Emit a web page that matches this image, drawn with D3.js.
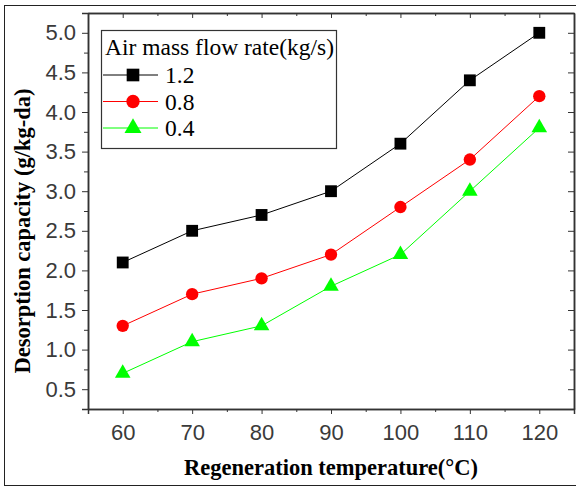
<!DOCTYPE html>
<html>
<head>
<meta charset="utf-8">
<script src="https://cdn.jsdelivr.net/npm/d3@7"></script>
<style>
  body { margin: 0; background: #fff; }
  svg { display: block; }
  .tick text { font-family: "Liberation Sans", Arial, sans-serif; font-size: 22px; fill: #3a3a3a; }
  .tick line, .domain { stroke: #333; }
</style>
</head>
<body>
<svg id="chart" width="576" height="487"></svg>
<script>
(function() {

  'use strict';

  // data
  var temperatures = [60, 70, 80, 90, 100, 110, 120];
  var flowRates = ['1.2', '0.8', '0.4'];
  var capacity12 = [2.1, 2.5, 2.7, 3.0, 3.6, 4.4, 5.0];
  var capacity08 = [1.3, 1.7, 1.9, 2.2, 2.8, 3.4, 4.2];
  var capacity04 = [0.7, 1.1, 1.3, 1.8, 2.2, 3.0, 3.8];
  var yTicks = [0.5, 1.0, 1.5, 2.0, 2.5, 3.0, 3.5, 4.0, 4.5, 5.0];

  var series = [
    { name: flowRates[0], values: capacity12, colour: '#000000', symbol: d3.symbolSquare, size: 140 },
    { name: flowRates[1], values: capacity08, colour: '#ff0000', symbol: d3.symbolCircle, size: 120 },
    { name: flowRates[2], values: capacity04, colour: '#00ff00', symbol: d3.symbolTriangle, size: 105 }
  ];

  var svg = d3.select('#chart');
  var left = 88, right = 574, top = 13, bottom = 409;
  var serif = '"Liberation Serif", "Times New Roman", serif';

  // outer frame
  svg.append('rect')
    .attr('x', 4.5).attr('y', 5.5)
    .attr('width', 620).attr('height', 480)
    .attr('fill', 'none').attr('stroke', '#222');

  var x = d3.scaleLinear().domain([55, 125]).range([left, right]);
  var y = d3.scaleLinear().domain([0.25, 5.25]).range([bottom, top]);

  var minorX = d3.range(55, 126, 10);
  var minorY = d3.range(0.25, 5.3, 0.5);

  function axis(gen, transform, noLabels) {
    var g = svg.append('g').attr('transform', transform).call(gen);
    if (noLabels) g.selectAll('text').remove();
    return g;
  }

  // bottom / left with labels, outward ticks
  axis(d3.axisBottom(x).tickValues(temperatures).tickSize(5).tickPadding(10).tickFormat(d3.format('d')), 'translate(0,' + bottom + ')');
  axis(d3.axisBottom(x).tickValues(minorX).tickSize(3).tickSizeOuter(0), 'translate(0,' + bottom + ')', true);
  axis(d3.axisLeft(y).tickValues(yTicks).tickSize(6).tickPadding(6).tickFormat(d3.format('.1f')), 'translate(' + left + ',0)');
  axis(d3.axisLeft(y).tickValues(minorY).tickSize(4).tickSizeOuter(0), 'translate(' + left + ',0)', true);

  // top / right, inward ticks
  axis(d3.axisBottom(x).tickValues(temperatures).tickSize(5).tickSizeOuter(0), 'translate(0,' + top + ')', true);
  axis(d3.axisBottom(x).tickValues(minorX).tickSize(3).tickSizeOuter(0), 'translate(0,' + top + ')', true);
  axis(d3.axisRight(y).tickValues(yTicks).tickSize(-6).tickSizeOuter(0), 'translate(' + right + ',0)', true);
  axis(d3.axisRight(y).tickValues(minorY).tickSize(-4).tickSizeOuter(0), 'translate(' + right + ',0)', true);
  svg.selectAll('.domain').attr('stroke-width', 1.5);

  // lines and markers
  var line = d3.line()
    .x(function(d, i) { return x(temperatures[i]); })
    .y(function(d) { return y(d); });

  series.forEach(function(s) {
    svg.append('path')
      .attr('d', line(s.values))
      .attr('fill', 'none')
      .attr('stroke', s.colour)
      .attr('stroke-width', 1);

    svg.selectAll(null)
      .data(s.values)
      .enter().append('path')
      .attr('d', d3.symbol().type(s.symbol).size(s.size))
      .attr('transform', function(d, i) { return 'translate(' + x(temperatures[i]) + ',' + y(d) + ')'; })
      .attr('fill', s.colour);
  });

  // legend
  var legend = svg.append('g').attr('transform', 'translate(101,30)');
  legend.append('rect')
    .attr('x', 0.5).attr('y', 0.5)
    .attr('width', 235).attr('height', 118)
    .attr('fill', '#fff').attr('stroke', '#333').attr('stroke-width', 1.2);
  legend.append('text')
    .attr('x', 4).attr('y', 25)
    .attr('font-family', serif)
    .attr('font-size', 23.5)
    .attr('fill', '#000')
    .text('Air mass flow rate(kg/s)');

  series.forEach(function(s, i) {
    var cy = 45 + i * 26.5;
    legend.append('line')
      .attr('x1', 2).attr('x2', 57)
      .attr('y1', cy).attr('y2', cy)
      .attr('stroke', s.colour).attr('stroke-width', 1);
    legend.append('path')
      .attr('d', d3.symbol().type(s.symbol).size(s.size + 20))
      .attr('transform', 'translate(32,' + cy + ')')
      .attr('fill', s.colour);
    legend.append('text')
      .attr('x', 64).attr('y', cy + 8)
      .attr('font-family', serif)
      .attr('font-size', 23.5)
      .attr('fill', '#000')
      .text(s.name);
  });

  // axis titles
  svg.append('text')
    .attr('x', 331).attr('y', 475)
    .attr('text-anchor', 'middle')
    .attr('font-family', serif)
    .attr('font-weight', 'bold')
    .attr('font-size', 22.5)
    .text('Regeneration temperature(°C)');

  svg.append('text')
    .attr('transform', 'translate(30,231) rotate(-90)')
    .attr('text-anchor', 'middle')
    .attr('font-family', serif)
    .attr('font-weight', 'bold')
    .attr('font-size', 22.5)
    .text('Desorption capacity (g/kg-da)');

})();
</script>
</body>
</html>
